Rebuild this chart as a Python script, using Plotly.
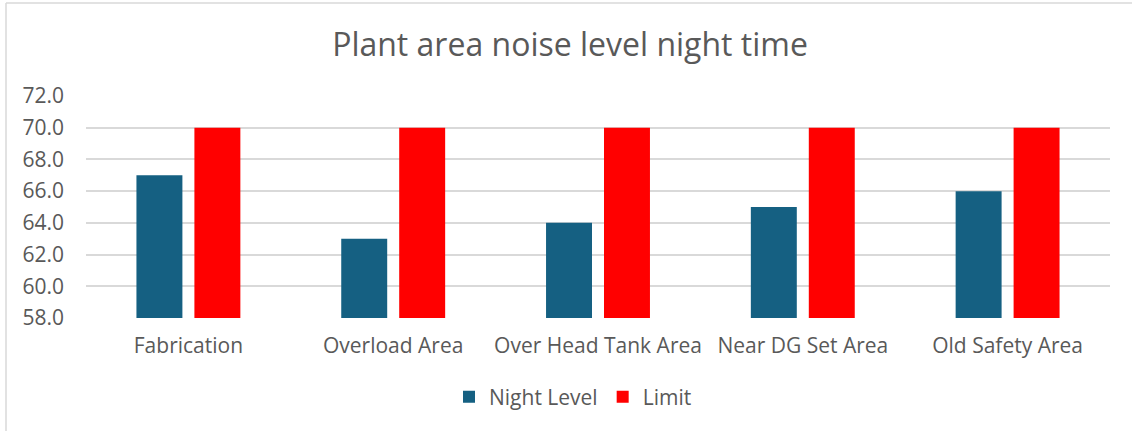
import plotly.graph_objects as go

categories = ["Fabrication", "Overload Area", "Over Head Tank Area", "Near DG Set Area", "Old Safety Area"]
night_level = [67, 63, 64, 65, 66]
limit = [70, 70, 70, 70, 70]
y_ticks = [58, 60, 62, 64, 66, 68, 70, 72]

W, H = 1132, 431
L, R, T, B = 86, 22, 96, 113
pw, ph = W - L - R, H - T - B

font = "Open Sans"
grey = "#595959"

fig = go.Figure()
fig.add_bar(x=categories, y=night_level, name="Night Level", marker_color="#156082",
            marker_line_width=0)
fig.add_bar(x=categories, y=limit, name="Limit", marker_color="#FF0000",
            marker_line_width=0)

# outer chart border (left & top visible)
bx = (6 - L) / pw
by = (H - B - 3) / ph
fig.add_shape(type="line", xref="paper", yref="paper", x0=bx, x1=bx, y0=by, y1=-(B + 20) / ph,
              line=dict(color="#D9D9D9", width=1.5))
fig.add_shape(type="line", xref="paper", yref="paper", x0=bx, x1=(W + 10 - L) / pw, y0=by, y1=by,
              line=dict(color="#D9D9D9", width=1.5))

fig.update_layout(
    width=W, height=H,
    margin=dict(l=L, r=R, t=T, b=B, autoexpand=False),
    paper_bgcolor="white", plot_bgcolor="white",
    barmode="group", bargap=0.434, bargroupgap=0.207,
    title=dict(text="Plant area noise level night time", x=(570 - L) / pw, xanchor="center",
               xref="paper", y=1 - 45 / H, yanchor="middle",
               font=dict(family=font, size=32, color=grey)),
    font=dict(family=font, size=21, color=grey),
    xaxis=dict(showgrid=False, showline=False, ticks="", ticklabelstandoff=13,
               tickfont=dict(size=21, color=grey)),
    yaxis=dict(range=[58, 72], tickvals=y_ticks, tickformat=".1f", showgrid=True,
               gridcolor="#D9D9D9", gridwidth=1.5, zeroline=False, showline=False,
               ticks="", ticklen=0, ticklabelstandoff=21, tickfont=dict(size=21, color=grey)),
    legend=dict(orientation="h", x=(573 - L) / pw, xanchor="center", y=-(397 - (H - B)) / ph,
                yanchor="middle", font=dict(size=21, color=grey), itemwidth=30,
                traceorder="normal"),
    showlegend=True,
)
fig.write_html("out.html", config={"displayModeBar": False},
               post_script="document.body.style.margin='0';")
